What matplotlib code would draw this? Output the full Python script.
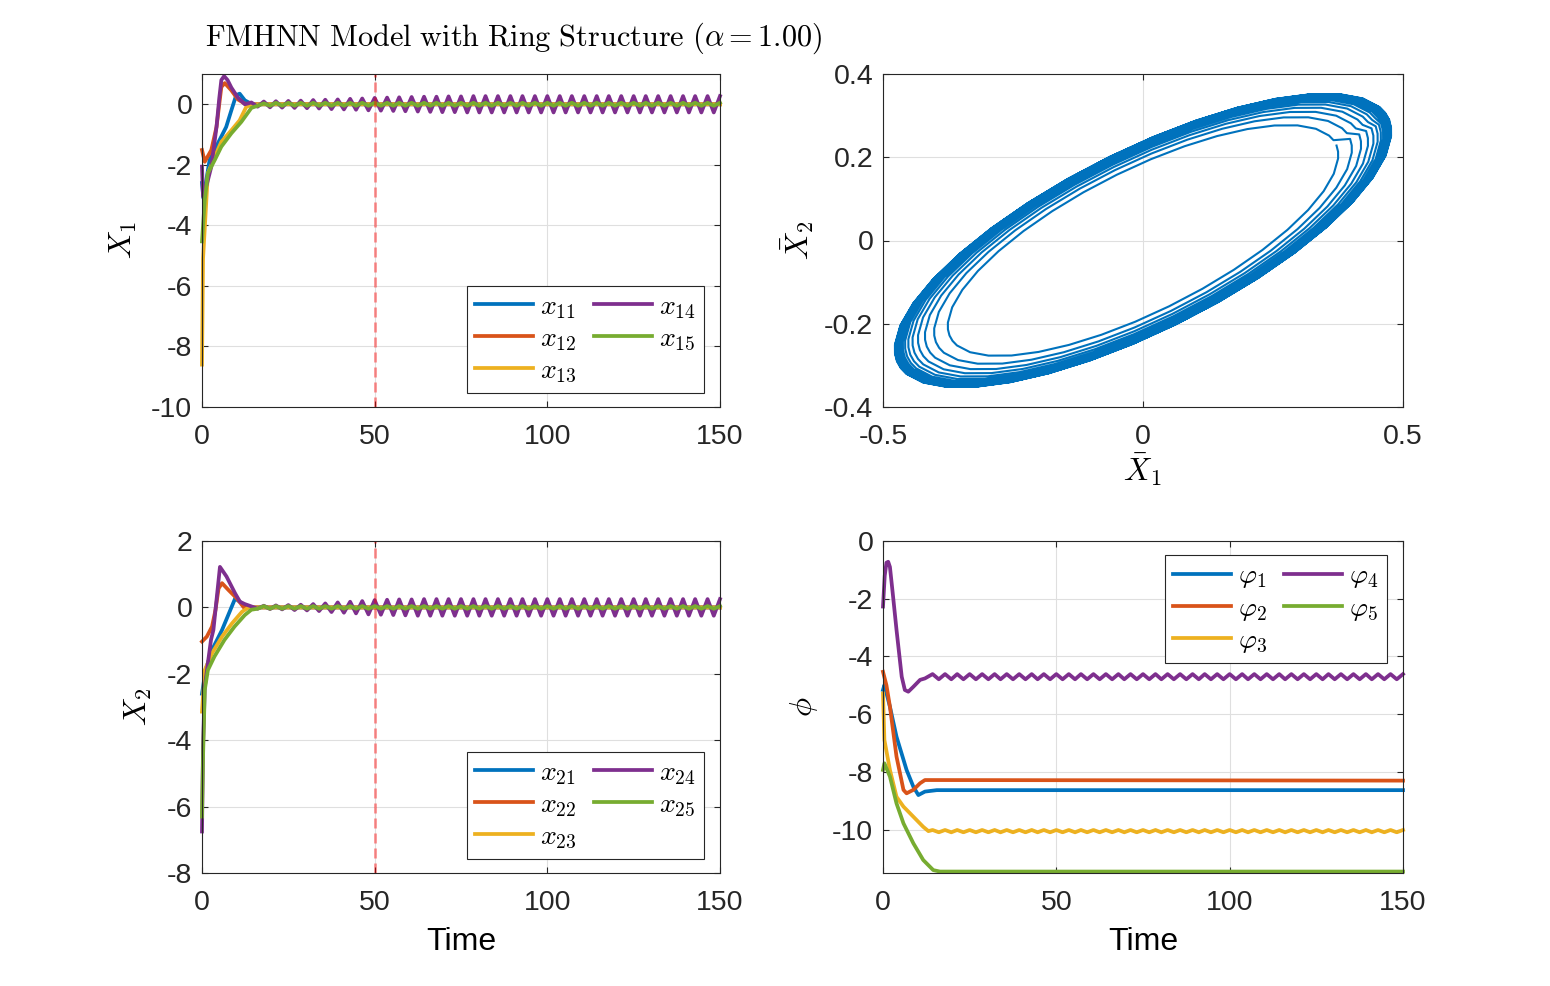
import numpy as np
import matplotlib
matplotlib.use("Agg")
import matplotlib.pyplot as plt
from matplotlib.ticker import FuncFormatter

plt.rcParams["font.family"] = ["Liberation Sans", "DejaVu Sans"]
plt.rcParams["mathtext.fontset"] = "cm"
plt.rcParams["axes.unicode_minus"] = False

# MATLAB default line colours
colors = ["#0072BD", "#D95319", "#EDB120", "#7E2F8E", "#77AC30"]

# ---------------- data ----------------
# times of the extrema of the steady oscillation (shared by all panels)
t_osc = [14.3, 16.1, 17.9, 19.7, 21.4, 23.2, 25.0, 26.8, 28.6, 30.4,
         32.2, 33.9, 35.7, 37.5, 39.3, 41.1, 42.9, 44.6, 46.4, 48.2,
         50.0, 51.8, 53.6, 55.4, 57.1, 58.9, 60.7, 62.5, 64.3, 66.1,
         67.9, 69.6, 71.4, 73.2, 75.0, 76.8, 78.6, 80.3, 82.1, 83.9,
         85.7, 87.5, 89.3, 91.1, 92.8, 94.6, 96.4, 98.2, 100.0, 101.8,
         103.6, 105.3, 107.1, 108.9, 110.7, 112.5, 114.3, 116.0, 117.8, 119.6,
         121.4, 123.2, 125.0, 126.8, 128.5, 130.3, 132.1, 133.9, 135.7, 137.5,
         139.3, 141.0, 142.8, 144.6, 146.4, 148.2, 150.0]

# X1 panel
t_x11 = [0, 0.4, 2.2, 4.6, 7.0, 8.5, 9.9, 10.9, 12.4, 14.5, 150]
x11 = [-2.6, -3.1, -1.84, -1.29, -0.75, -0.2, 0.3, 0.35, 0.13, 0.0, 0.0]
t_x12 = [0, 0.8, 2.7, 4.2, 5.6, 6.6, 8.5, 10.4, 12.4, 14.5, 150]
x12 = [-1.51, -1.9, -1.51, -0.75, 0.57, 0.70, 0.46, 0.16, 0.02, 0.0, 0.0]
t_x13 = [0, 0.3, 1.7, 3.7, 5.6, 8.5, 10.9, 12.8, 14.5, 150]
x13 = [-8.6, -5.1, -2.28, -1.73, -1.24, -0.86, -0.53, -0.09, 0.0, 0.0]
t_x14 = [0, 0.3, 1.5, 2.7, 4.2, 5.0, 5.6, 6.4, 7.4, 8.5, 10.4, 12.4]
x14 = [-2.06, -3.05, -2.6, -2.06, -0.75, 0.2, 0.8, 0.93, 0.8, 0.55, 0.22, 0.0]
x14_osc = [0.06, -0.08, 0.09, -0.10, 0.10, -0.11, 0.11, -0.12, 0.12, -0.13,
           0.14, -0.14, 0.15, -0.16, 0.16, -0.17, 0.18, -0.18, 0.19, -0.20,
           0.21, -0.21, 0.22, -0.22, 0.23, -0.23, 0.24, -0.24, 0.25, -0.25,
           0.25, -0.26, 0.26, -0.26, 0.26, -0.27, 0.27, -0.27, 0.27, -0.27,
           0.27, -0.27, 0.27, -0.27, 0.27, -0.27, 0.27, -0.27, 0.27, -0.27,
           0.27, -0.27, 0.27, -0.27, 0.27, -0.27, 0.27, -0.27, 0.27, -0.27,
           0.27, -0.27, 0.27, -0.27, 0.27, -0.27, 0.27, -0.27, 0.27, -0.27,
           0.27, -0.27, 0.27, -0.27, 0.27, -0.27, 0.27]
t_x15 = [0, 0.8, 1.7, 3.7, 5.6, 8.5, 11.4, 13.8]
x15 = [-4.53, -3.16, -2.28, -1.84, -1.40, -0.96, -0.58, -0.2]
x15_osc = [-0.12, -0.05, 0.03, -0.05, 0.05, -0.05, 0.05, -0.05, 0.05, -0.05,
           0.05, -0.05, 0.05, -0.05, 0.05, -0.05, 0.05, -0.05, 0.05, -0.05,
           0.05, -0.05, 0.05, -0.05, 0.05, -0.05, 0.05, -0.05, 0.05, -0.05,
           0.05, -0.05, 0.05, -0.05, 0.05, -0.05, 0.05, -0.05, 0.05, -0.05,
           0.05, -0.05, 0.05, -0.05, 0.05, -0.05, 0.05, -0.05, 0.05, -0.05,
           0.05, -0.05, 0.05, -0.05, 0.05, -0.05, 0.05, -0.05, 0.05, -0.05,
           0.05, -0.05, 0.05, -0.05, 0.05, -0.05, 0.05, -0.05, 0.05, -0.05,
           0.05, -0.05, 0.05, -0.05, 0.05, -0.05, 0.05]

# X2 panel
t_x21 = [0, 0.3, 1.0, 2.9, 5.8, 8.2, 9.6, 11.6, 13.5, 150]
x21 = [-2.6, -2.4, -1.9, -1.28, -0.68, -0.08, 0.27, 0.12, 0.0, 0.0]
t_x22 = [0, 1.4, 2.9, 3.9, 4.8, 5.8, 7.7, 10.1, 12.1, 14.0, 150]
x22 = [-1.03, -0.88, -0.58, -0.08, 0.57, 0.73, 0.52, 0.27, 0.0, 0.0, 0.0]
t_x23 = [0, 0.8, 2.9, 5.8, 8.7, 11.6, 13.5, 150]
x23 = [-3.14, -1.89, -1.38, -0.88, -0.48, -0.13, 0.0, 0.0]
t_x24 = [0, 0.3, 0.8, 1.7, 2.6, 3.3, 4.3, 5.2, 7.1, 9.6, 11.0, 12.4]
x24 = [-6.75, -4.2, -2.4, -1.68, -0.98, -0.68, 0.32, 1.22, 0.93, 0.42, 0.17, 0.1]
x24_osc = [0.03, -0.04, 0.05, -0.05, 0.06, -0.06, 0.07, -0.08, 0.08, -0.09,
           0.10, -0.11, 0.12, -0.14, 0.15, -0.16, 0.17, -0.18, 0.19, -0.21,
           0.22, -0.22, 0.23, -0.23, 0.24, -0.24, 0.24, -0.25, 0.25, -0.25,
           0.25, -0.25, 0.25, -0.25, 0.25, -0.25, 0.25, -0.25, 0.25, -0.25,
           0.25, -0.25, 0.25, -0.25, 0.25, -0.25, 0.25, -0.25, 0.25, -0.25,
           0.25, -0.25, 0.25, -0.25, 0.25, -0.25, 0.25, -0.25, 0.25, -0.25,
           0.25, -0.25, 0.25, -0.25, 0.25, -0.25, 0.25, -0.25, 0.25, -0.25,
           0.25, -0.25, 0.25, -0.25, 0.25, -0.25, 0.25]
t_x25 = [0, 0.3, 0.8, 1.7, 3.6, 6.5, 9.4, 12.4]
x25 = [-6.3, -4.5, -2.49, -1.89, -1.48, -0.98, -0.58, -0.23]
x25_osc = [-0.07, -0.04, 0.04, -0.04, 0.04, -0.04, 0.04, -0.04, 0.04, -0.04,
           0.04, -0.04, 0.04, -0.04, 0.04, -0.04, 0.04, -0.04, 0.04, -0.04,
           0.04, -0.04, 0.04, -0.04, 0.04, -0.04, 0.04, -0.04, 0.04, -0.04,
           0.04, -0.04, 0.04, -0.04, 0.04, -0.04, 0.04, -0.04, 0.04, -0.04,
           0.04, -0.04, 0.04, -0.04, 0.04, -0.04, 0.04, -0.04, 0.04, -0.04,
           0.04, -0.04, 0.04, -0.04, 0.04, -0.04, 0.04, -0.04, 0.04, -0.04,
           0.04, -0.04, 0.04, -0.04, 0.04, -0.04, 0.04, -0.04, 0.04, -0.04,
           0.04, -0.04, 0.04, -0.04, 0.04, -0.04, 0.04]

# phase panel
t_p1 = [0, 0.4, 2.0, 3.9, 6.8, 8.75, 10.2, 12.1, 15.5, 150]
p1 = [-5.16, -4.99, -5.74, -6.78, -7.93, -8.51, -8.80, -8.68, -8.63, -8.63]
t_p2 = [0, 1.0, 2.0, 3.9, 5.9, 6.8, 8.75, 10.7, 12.1, 150]
p2 = [-4.53, -5.0, -5.74, -7.47, -8.62, -8.74, -8.62, -8.39, -8.28, -8.30]
t_p3 = [0, 0.4, 2.0, 3.9, 5.9, 8.75, 11.6, 13.1]
p3 = [-5.28, -6.89, -7.93, -8.86, -9.20, -9.55, -9.90, -10.05]
p3_osc = [-10.01, -10.09, -10.01, -10.09, -10.01, -10.09, -10.01, -10.09, -10.01, -10.09,
          -10.01, -10.09, -10.01, -10.09, -10.01, -10.09, -10.01, -10.09, -10.01, -10.09,
          -10.01, -10.09, -10.01, -10.09, -10.01, -10.09, -10.01, -10.09, -10.01, -10.09,
          -10.01, -10.09, -10.01, -10.09, -10.01, -10.09, -10.01, -10.09, -10.01, -10.09,
          -10.01, -10.09, -10.01, -10.09, -10.01, -10.09, -10.01, -10.09, -10.01, -10.09,
          -10.01, -10.09, -10.01, -10.09, -10.01, -10.09, -10.01, -10.09, -10.01, -10.09,
          -10.01, -10.09, -10.01, -10.09, -10.01, -10.09, -10.01, -10.09, -10.01, -10.09,
          -10.01, -10.09, -10.01, -10.09, -10.01, -10.09, -10.01]
t_p4 = [0, 0.5, 1.0, 1.5, 2.0, 2.8, 3.9, 5.4, 6.3, 7.3, 8.75, 10.7, 12.1]
p4 = [-2.27, -1.2, -0.75, -0.72, -0.9, -1.8, -3.08, -4.70, -5.16, -5.22, -5.05, -4.81, -4.76]
p4_osc = [-4.61, -4.79, -4.61, -4.79, -4.61, -4.79, -4.61, -4.79, -4.61, -4.79,
          -4.61, -4.79, -4.61, -4.79, -4.61, -4.79, -4.61, -4.79, -4.61, -4.79,
          -4.61, -4.79, -4.61, -4.79, -4.61, -4.79, -4.61, -4.79, -4.61, -4.79,
          -4.61, -4.79, -4.61, -4.79, -4.61, -4.79, -4.61, -4.79, -4.61, -4.79,
          -4.61, -4.79, -4.61, -4.79, -4.61, -4.79, -4.61, -4.79, -4.61, -4.79,
          -4.61, -4.79, -4.61, -4.79, -4.61, -4.79, -4.61, -4.79, -4.61, -4.79,
          -4.61, -4.79, -4.61, -4.79, -4.61, -4.79, -4.61, -4.79, -4.61, -4.79,
          -4.61, -4.79, -4.61, -4.79, -4.61, -4.79, -4.61]
t_p5 = [0, 0.4, 2.0, 3.9, 5.9, 8.75, 11.6, 14.5, 16.4, 150]
p5 = [-7.93, -7.70, -8.16, -9.09, -9.78, -10.47, -11.05, -11.40, -11.45, -11.45]

# mean-field phase portrait: outer limit-cycle outline (clockwise, from the start angle)
cycle_x = [0.4741, 0.4779, 0.4780, 0.4674, 0.4426, 0.4044, 0.3538, 0.2926, 0.2224, 0.1455,
           0.0641, -0.0192, -0.1019, -0.1815, -0.2556, -0.3220, -0.3785, -0.4236, -0.4558,
           -0.4667, -0.4741, -0.4779, -0.4780, -0.4674, -0.4426, -0.4044, -0.3538, -0.2926,
           -0.2224, -0.1455, -0.0641, 0.0192, 0.1019, 0.1815, 0.2556, 0.3220, 0.3785, 0.4236,
           0.4558, 0.4667]
cycle_y = [0.2906, 0.2719, 0.2512, 0.2042, 0.1510, 0.0932, 0.0326, -0.0290, -0.0898, -0.1478,
           -0.2013, -0.2487, -0.2885, -0.3196, -0.3410, -0.3520, -0.3523, -0.3419, -0.3211,
           -0.3070, -0.2906, -0.2719, -0.2512, -0.2042, -0.1510, -0.0932, -0.0326, 0.0290,
           0.0898, 0.1478, 0.2013, 0.2487, 0.2885, 0.3196, 0.3410, 0.3520, 0.3523, 0.3419,
           0.3211, 0.3070]
# relative size of each successive turn of the spiral
ring_scale = [0.785, 0.84, 0.877, 0.905, 0.927, 0.944, 0.957, 0.966, 0.972,
              0.976, 0.979, 0.982, 0.984, 0.986, 0.988, 0.990, 0.991, 0.992,
              0.993, 0.994, 0.995, 0.996, 0.997, 0.998]

# ---------------- figure ----------------
fig = plt.figure(figsize=(15.5, 9.86), dpi=100)
W, H = 1550, 986


def axes_px(x0, y0, x1, y1):
    return fig.add_axes([x0 / W, 1 - y1 / H, (x1 - x0) / W, (y1 - y0) / H])


def style(ax):
    ax.grid(True, color="#dfdfdf", lw=0.8)
    ax.set_axisbelow(True)
    ax.tick_params(direction="in", top=True, right=True, length=4.5, width=0.8,
                   labelsize=20.5, colors="#262626")
    ax.tick_params(axis="x", pad=12.5)
    ax.tick_params(axis="y", pad=7)
    for s in ax.spines.values():
        s.set_color("#262626")
        s.set_linewidth(0.8)
    ax.xaxis.set_major_formatter(FuncFormatter(lambda v, p: f"{v:g}"))
    ax.yaxis.set_major_formatter(FuncFormatter(lambda v, p: f"{v:g}"))


LW = 2.7
line_kw = dict(lw=LW, clip_on=False)
leg_kw = dict(fontsize=20, ncol=2, handlelength=2.1, handletextpad=0.25,
              columnspacing=0.6, labelspacing=0.19, borderpad=0.3,
              fancybox=False, framealpha=1, edgecolor="#262626")

# --- X1 ---
ax1 = axes_px(202, 74, 720, 407)
ax1.plot(t_x11, x11, color=colors[0], label=r"$x_{11}$", **line_kw)
ax1.plot(t_x12, x12, color=colors[1], label=r"$x_{12}$", **line_kw)
ax1.plot(t_x13, x13, color=colors[2], label=r"$x_{13}$", **line_kw)
ax1.plot(t_x14 + t_osc, x14 + x14_osc, color=colors[3], label=r"$x_{14}$", **line_kw)
ax1.plot(t_x15 + t_osc, x15 + x15_osc, color=colors[4], label=r"$x_{15}$", **line_kw)
ax1.axvline(50, color="red", alpha=0.42, lw=2, dashes=(3.6, 1.8))
ax1.set_xlim(0, 150)
ax1.set_ylim(-10, 1)
ax1.set_xticks([0, 50, 100, 150])
ax1.set_yticks([-10, -8, -6, -4, -2, 0])
style(ax1)
ax1.set_ylabel(r"$X_1$", fontsize=23, labelpad=9)
leg = ax1.legend(loc="lower right", bbox_to_anchor=(0.969, 0.042), borderaxespad=0, **leg_kw)
leg.get_frame().set_linewidth(0.8)

# --- phase portrait ---
ax2 = axes_px(883, 74, 1403, 407)
sx = np.concatenate([s * np.array(cycle_x) for s in ring_scale] + [[ring_scale[-1] * cycle_x[0]]])
sy = np.concatenate([s * np.array(cycle_y) for s in ring_scale] + [[ring_scale[-1] * cycle_y[0]]])
ax2.plot(sx, sy, color=colors[0], lw=1.5)
ax2.set_xlim(-0.5, 0.5)
ax2.set_ylim(-0.4, 0.4)
ax2.set_xticks([-0.5, 0, 0.5])
ax2.set_yticks([-0.4, -0.2, 0, 0.2, 0.4])
style(ax2)
ax2.set_xlabel(r"$\bar{X}_1$", fontsize=23, labelpad=1)
ax2.set_ylabel(r"$\bar{X}_2$", fontsize=23, labelpad=5.5)

# --- X2 ---
ax3 = axes_px(202, 541, 720, 873)
ax3.plot(t_x21, x21, color=colors[0], label=r"$x_{21}$", **line_kw)
ax3.plot(t_x22, x22, color=colors[1], label=r"$x_{22}$", **line_kw)
ax3.plot(t_x23, x23, color=colors[2], label=r"$x_{23}$", **line_kw)
ax3.plot(t_x24 + t_osc, x24 + x24_osc, color=colors[3], label=r"$x_{24}$", **line_kw)
ax3.plot(t_x25 + t_osc, x25 + x25_osc, color=colors[4], label=r"$x_{25}$", **line_kw)
ax3.axvline(50, color="red", alpha=0.42, lw=2, dashes=(3.6, 1.8))
ax3.set_xlim(0, 150)
ax3.set_ylim(-8, 2)
ax3.set_xticks([0, 50, 100, 150])
ax3.set_yticks([-8, -6, -4, -2, 0, 2])
style(ax3)
ax3.set_xlabel("Time", fontsize=23, labelpad=8)
ax3.set_ylabel(r"$X_2$", fontsize=23, labelpad=9)
leg = ax3.legend(loc="lower right", bbox_to_anchor=(0.969, 0.042), borderaxespad=0, **leg_kw)
leg.get_frame().set_linewidth(0.8)

# --- phases ---
ax4 = axes_px(883, 541, 1403, 873)
ax4.plot(t_p1, p1, color=colors[0], label=r"$\varphi_1$", **line_kw)
ax4.plot(t_p2, p2, color=colors[1], label=r"$\varphi_2$", **line_kw)
ax4.plot(t_p3 + t_osc, p3 + p3_osc, color=colors[2], label=r"$\varphi_3$", **line_kw)
ax4.plot(t_p4 + t_osc, p4 + p4_osc, color=colors[3], label=r"$\varphi_4$", **line_kw)
ax4.plot(t_p5, p5, color=colors[4], label=r"$\varphi_5$", **line_kw)
ax4.set_xlim(0, 150)
ax4.set_ylim(-11.5, 0)
ax4.set_xticks([0, 50, 100, 150])
ax4.set_yticks([-10, -8, -6, -4, -2, 0])
style(ax4)
ax4.set_xlabel("Time", fontsize=23, labelpad=8)
ax4.set_ylabel(r"$\phi$", fontsize=23, labelpad=9)
leg = ax4.legend(loc="upper right", bbox_to_anchor=(0.969, 0.958), borderaxespad=0, **leg_kw)
leg.get_frame().set_linewidth(0.8)

fig.text(205 / W, 1 - 38 / H,
         r"$\mathrm{FMHNN\ Model\ with\ Ring\ Structure\ }(\alpha = 1.00)$",
         fontsize=21.8, ha="left", va="center", color="#000000")

fig.savefig("out.png", dpi=100)
